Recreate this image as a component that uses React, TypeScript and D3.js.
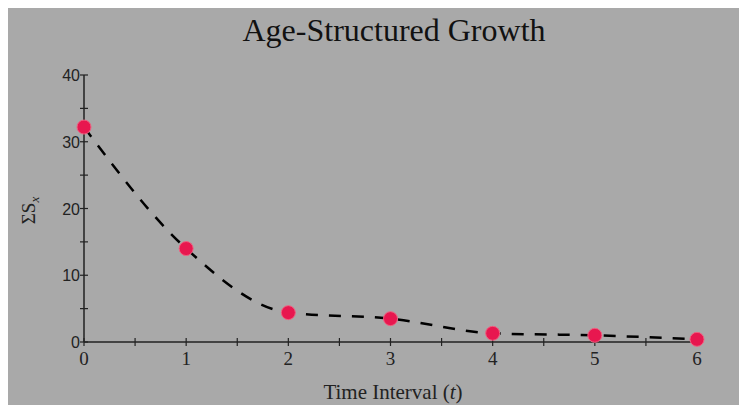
import React from "react";
import * as d3 from "d3";

const times = [0, 1, 2, 3, 4, 5, 6];
const totals = [32.2, 14.0, 4.4, 3.5, 1.3, 1.0, 0.4];
const xTickLabels = ["0", "1", "2", "3", "4", "5", "6"];
const yTickValues = [0, 10, 20, 30, 40];
const xMinorTicks = d3.range(0, 6.01, 0.5);
const yMinorTicks = d3.range(0, 40.01, 5);

const W = 739;
const H = 405;

export default function App() {
  const x = d3.scaleLinear().domain([0, 6]).range([84, 697]);
  const y = d3.scaleLinear().domain([0, 40]).range([342, 75]);
  const pts: [number, number][] = times.map((t, i) => [t, totals[i]]);
  const line = d3
    .line<[number, number]>()
    .x((d) => x(d[0]))
    .y((d) => y(d[1]))
    .curve(d3.curveMonotoneX);

  const serif = "'Liberation Serif', 'DejaVu Serif', serif";
  const sans = "'Liberation Sans', Arial, sans-serif";

  return (
    <svg
      width={W}
      height={H}
      style={{ position: "absolute", left: 0, top: 0, display: "block" }}
    >
      <rect x={0} y={0} width={W} height={H} fill="#ffffff" />
      <rect x={8} y={8} width={W - 8} height={H - 8} fill="#a9a9a9" />

      <text
        x={394}
        y={41}
        textAnchor="middle"
        fontFamily={serif}
        fontSize={32}
        fill="#111"
      >
        Age-Structured Growth
      </text>

      {/* axes */}
      <line x1={x(0)} x2={x(0)} y1={y(40)} y2={y(0)} stroke="#222" strokeWidth={1.5} />
      <line x1={x(0)} x2={x(6)} y1={y(0)} y2={y(0)} stroke="#222" strokeWidth={1.5} />

      {yMinorTicks.map((v) => (
        <line
          key={"yt" + v}
          x1={x(0) - 4}
          x2={x(0) + 4}
          y1={y(v)}
          y2={y(v)}
          stroke="#222"
          strokeWidth={1.2}
        />
      ))}
      {xMinorTicks.map((v) => (
        <line
          key={"xt" + v}
          x1={x(v)}
          x2={x(v)}
          y1={y(0) - 4}
          y2={y(0) + 4}
          stroke="#222"
          strokeWidth={1.2}
        />
      ))}

      {yTickValues.map((v) => (
        <text
          key={"yl" + v}
          x={x(0) - 4}
          y={y(v) + 6}
          textAnchor="end"
          fontFamily={sans}
          fontSize={16}
          fill="#222"
        >
          {v}
        </text>
      ))}
      {xTickLabels.map((s, i) => (
        <text
          key={"xl" + s}
          x={x(times[i])}
          y={365}
          textAnchor="middle"
          fontFamily={serif}
          fontSize={19}
          fill="#222"
        >
          {s}
        </text>
      ))}

      <text
        transform={`translate(35, ${y(20) + 2}) rotate(-90)`}
        textAnchor="middle"
        fontFamily={serif}
        fontSize={19}
        fill="#222"
      >
        ΣS
        <tspan fontStyle="italic" fontSize={13} dy={4}>
          x
        </tspan>
      </text>

      <text
        x={393}
        y={399}
        textAnchor="middle"
        fontFamily={serif}
        fontSize={21}
        fill="#222"
      >
        Time Interval (<tspan fontStyle="italic">t</tspan>)
      </text>

      <path
        d={line(pts) ?? ""}
        fill="none"
        stroke="#000"
        strokeWidth={2.5}
        strokeDasharray="12 11"
      />

      {pts.map((d, i) => (
        <circle
          key={"p" + i}
          cx={x(d[0])}
          cy={y(d[1])}
          r={7}
          fill="#e8174f"
          stroke="#f06080"
          strokeWidth={1}
        />
      ))}
    </svg>
  );
}
